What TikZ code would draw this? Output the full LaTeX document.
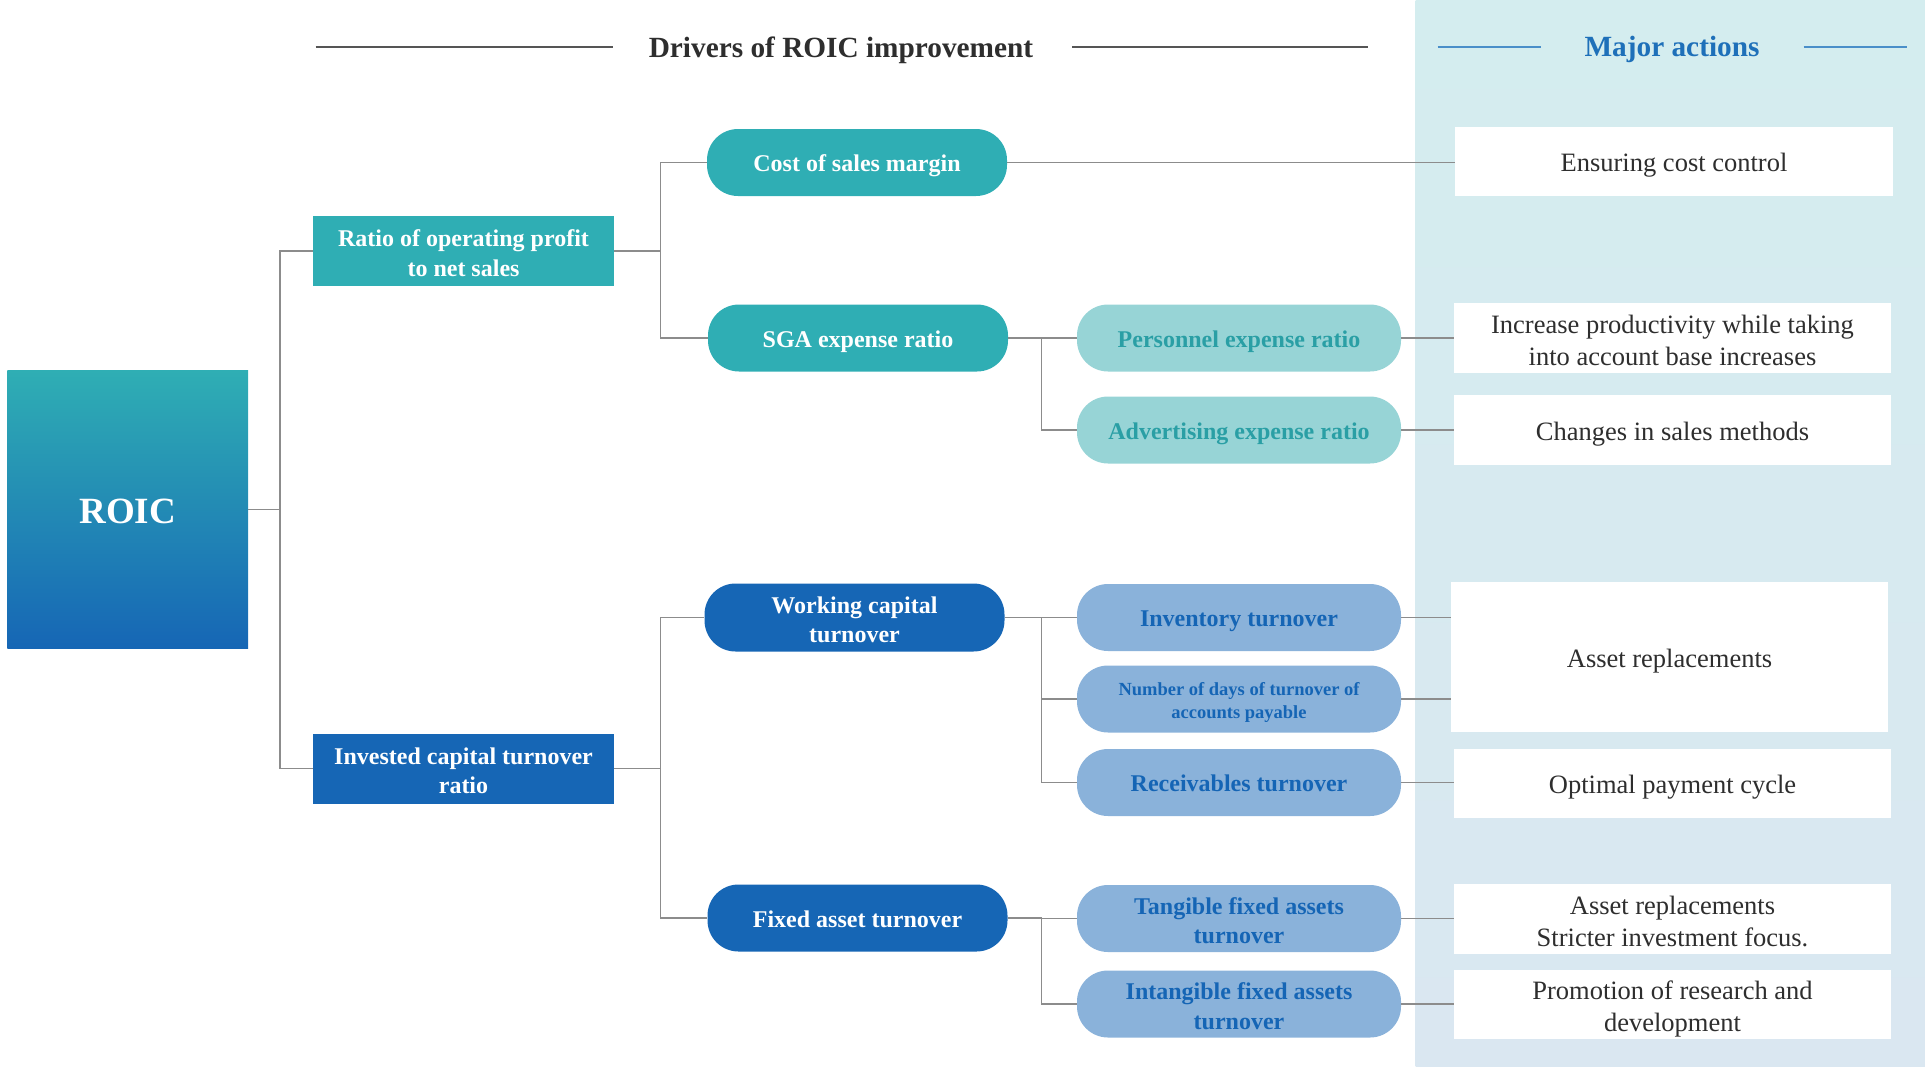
\documentclass[tikz,border=0pt]{standalone}
\usepackage{fontspec}
\setmainfont{Liberation Serif}
\usetikzlibrary{calc}

\definecolor{tealmain}{HTML}{2FAEB4}
\definecolor{bluemain}{HTML}{1666B5}
\definecolor{teallight}{HTML}{97D4D6}
\definecolor{tealtext}{HTML}{2A9FA5}
\definecolor{bluelight}{HTML}{8AB2DA}
\definecolor{bluetext}{HTML}{1565B5}
\definecolor{paneltop}{HTML}{D4EDEF}
\definecolor{panelbot}{HTML}{DAE7F1}
\definecolor{linegray}{HTML}{8C8C8C}
\definecolor{headgray}{HTML}{555555}
\definecolor{headblue}{HTML}{4A8FC9}
\definecolor{actblue}{HTML}{1E70B9}
\definecolor{bodytext}{HTML}{2E2E2E}

\newcommand\pillfont{\fontsize{24}{29.5}\selectfont\bfseries}
\newcommand\smallpillfont{\fontsize{18.5}{23.3}\selectfont\bfseries}
\newcommand\actfont{\fontsize{26.5}{32}\selectfont}
\newcommand\headfont{\fontsize{29.3}{34}\selectfont\bfseries}
% fixed-metric struts so every label sits at the same height in its box
\newcommand\tstrut{\rule[-0.22em]{0pt}{1.22em}}
% first line of a two-line label
\newcommand\mstrut{\rule[-0.22em]{0pt}{1.30em}}

\tikzset{
  conn/.style={draw=linegray, line width=1.5pt},
  base/.style={inner sep=0pt, align=center, font=\pillfont,
               execute at begin node=\tstrut, execute at end node=\tstrut},
  sqbox/.style={base, minimum width=301pt, minimum height=70pt, text=white},
  pill/.style={base, rounded corners=31pt, minimum width=300pt, minimum height=67pt, text=white},
  subpill/.style={base, rounded corners=31pt, minimum width=324pt, minimum height=67pt},
  tealsub/.style={subpill, fill=teallight, text=tealtext},
  bluesub/.style={subpill, fill=bluelight, text=bluetext},
  action/.style={base, font=\actfont, text=bodytext, fill=white,
                 minimum width=437pt, minimum height=70pt},
  heading/.style={base, font=\headfont},
}

\begin{document}
\begin{tikzpicture}[x=1pt, y=-1pt]
\useasboundingbox (0,0) rectangle (1925,1066);

% right-hand panel for the actions
\shade[top color=paneltop, bottom color=panelbot] (1415.6,0) rectangle (1925,1066);

% column headings
\node[heading, text=bodytext] (hdrive) at (841,46) {Drivers of ROIC improvement};
\draw[headgray, line width=2pt] (315.5,47) -- (612.5,47);
\draw[headgray, line width=2pt] (1072,47) -- (1368,47);
\node[heading, text=actblue] (hact) at (1672,45) {Major actions};
\draw[headblue, line width=2pt] (1437.5,47) -- (1541,47);
\draw[headblue, line width=2pt] (1803.5,47) -- (1906.5,47);

% root
\node[base, minimum width=240.6pt, minimum height=277.4pt,
      top color=tealmain, bottom color=bluemain, text=white,
      font=\fontsize{37}{40}\selectfont\bfseries] (roic) at (127.7,509.5) {ROIC};

% first level
\node[sqbox, fill=tealmain] (ratio) at (463.5,251) {\mstrut Ratio of operating profit\\to net sales};
\node[sqbox, fill=bluemain] (invest) at (463.5,768.5) {\mstrut Invested capital turnover\\ratio};

% second level
\node[pill, fill=tealmain] (cost) at (857,162.5) {Cost of sales margin};
\node[pill, fill=tealmain] (sga) at (858,338) {SGA expense ratio};
\node[pill, fill=bluemain, minimum height=68pt] (work) at (854.5,617.5) {\mstrut Working capital\\turnover};
\node[pill, fill=bluemain] (fixed) at (857.5,918) {Fixed asset turnover};

% third level
\node[tealsub] (pers) at (1239,338) {Personnel expense ratio};
\node[tealsub] (adv) at (1239,430) {Advertising expense ratio};
\node[bluesub] (inv) at (1239,617.5) {Inventory turnover};
\node[bluesub, font=\smallpillfont] (days) at (1239,699) {\mstrut Number of days of turnover of\\accounts payable};
\node[bluesub] (recv) at (1239,782.5) {Receivables turnover};
\node[bluesub] (tang) at (1239,918.5) {\mstrut Tangible fixed assets\\turnover};
\node[bluesub] (intang) at (1239,1004) {\mstrut Intangible fixed assets\\turnover};

% actions
\node[action, minimum width=438pt, minimum height=69pt] (act1) at (1674,161) {Ensuring cost control};
\node[action] (act2) at (1672.5,338) {\mstrut Increase productivity while taking\\into account base increases};
\node[action] (act3) at (1672.5,430) {Changes in sales methods};
\node[action, minimum height=150pt] (act4) at (1669.5,657) {Asset replacements};
\node[action, minimum height=69pt] (act5) at (1672.5,783) {Optimal payment cycle};
\node[action] (act6) at (1672.5,919) {\mstrut Asset replacements\\Stricter investment focus.};
\node[action, minimum height=69pt] (act7) at (1672.5,1004) {\mstrut Promotion of research and\\development};

% tree connectors
\coordinate (busA) at (280,0);
\coordinate (busB) at (660.5,0);
\coordinate (busC) at (1041.5,0);

\draw[conn] (roic.east) -- (roic.east -| busA) |- (ratio.west);
\draw[conn] (roic.east -| busA) |- (invest.west);

\draw[conn] (ratio.east) -- (ratio.east -| busB) |- (cost.west);
\draw[conn] (ratio.east -| busB) |- (sga.west);
\draw[conn] (invest.east) -- (invest.east -| busB) |- (work.west);
\draw[conn] (invest.east -| busB) |- (fixed.west);

\draw[conn] (sga.east) -- (sga.east -| busC) |- (adv.west);
\draw[conn] (sga.east -| busC) -- (pers.west);
\draw[conn] (work.east) -- (work.east -| busC) |- (recv.west);
\draw[conn] (work.east -| busC) -- (inv.west);
\draw[conn] (work.east -| busC) |- (days.west);
\draw[conn] (fixed.east) -- (fixed.east -| busC) |- (intang.west);
\draw[conn] (fixed.east -| busC) |- (tang.west);

% links to the actions
\draw[conn] (cost.east) -- (cost.east -| act1.west);
\draw[conn] (pers.east) -- (pers.east -| act2.west);
\draw[conn] (adv.east) -- (adv.east -| act3.west);
\draw[conn] (inv.east) -- (inv.east -| act4.west);
\draw[conn] (days.east) -- (days.east -| act4.west);
\draw[conn] (recv.east) -- (recv.east -| act5.west);
\draw[conn] (tang.east) -- (tang.east -| act6.west);
\draw[conn] (intang.east) -- (intang.east -| act7.west);
\end{tikzpicture}
\end{document}
